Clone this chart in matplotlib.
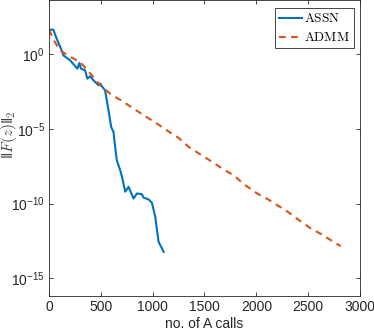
import matplotlib
matplotlib.use("Agg")
import matplotlib.pyplot as plt
import numpy as np
from matplotlib.ticker import LogFormatterMathtext, NullLocator

plt.rcParams['font.family'] = ['Liberation Sans', 'DejaVu Sans']
plt.rcParams['mathtext.fontset'] = 'custom'
plt.rcParams['mathtext.rm'] = 'Liberation Sans'
plt.rcParams['mathtext.it'] = 'Liberation Sans:italic'
plt.rcParams['mathtext.default'] = 'regular'

# ASSN: calls vs log10 residual
assn_x = [0, 42, 74, 122, 139, 203, 274, 293, 309, 348, 370, 396, 429, 477, 493, 516, 541,
          574, 600, 622, 638, 654, 687, 703, 735, 767, 816, 848, 896, 912, 961, 993, 1025,
          1057, 1106]
assn_log = [1.65, 1.65, 1.05, 0.27, -0.07, -0.4, -0.96, -0.58, -0.96, -1.07, -1.63, -1.47,
            -1.74, -2.07, -1.96, -2.19, -2.41, -3.75, -4.87, -5.2, -6.2, -7.1, -7.77, -8.18,
            -9.2, -8.88, -9.66, -9.32, -9.37, -9.6, -9.72, -9.95, -10.89, -12.56, -13.23]

# ADMM
admm_x = [0, 50, 106, 200, 300, 400, 493, 600, 700, 816, 930, 1041, 1150, 1250, 1348,
          1470, 1573, 1670, 1780, 1890, 2008, 2110, 2200, 2282, 2400, 2524, 2640, 2740, 2814]
admm_log = [1.65, 0.9, 0.27, -0.15, -0.51, -1.3, -2.07, -2.7, -3.1, -3.64, -4.15, -4.64,
            -5.15, -5.6, -6.2, -6.75, -7.2, -7.65, -8.1, -8.75, -9.32, -9.7, -10.1, -10.44,
            -11.05, -11.66, -12.1, -12.55, -12.85]

W, H = 374, 332
fig = plt.figure(figsize=(W/100, H/100), dpi=100)
ax = fig.add_axes([49/W, 1-296/H, 311/W, 296/H])

ax.semilogy(assn_x, 10.0**np.array(assn_log), '-', color='#0072BD', lw=1.5, label='$\\mathrm{ASSN}$')
ax.semilogy(admm_x, 10.0**np.array(admm_log), '--', color='#D95319', lw=1.5,
            dashes=(3.2, 2.6), label='$\\mathrm{ADMM}$')

ax.set_xlim(0, 3000)
ax.set_ylim(10**-16.19, 10**3.64)
ax.set_xticks([0, 500, 1000, 1500, 2000, 2500, 3000])
ax.set_yticks([1e-15, 1e-10, 1e-5, 1e0])
ax.yaxis.set_minor_locator(NullLocator())
ax.yaxis.set_major_formatter(LogFormatterMathtext())

ax.tick_params(direction='in', length=3, width=0.6, top=True, right=True,
               labelsize=10, colors='#262626', pad=3)
for s in ax.spines.values():
    s.set_color('#262626')
    s.set_linewidth(0.6)

ax.set_xlabel('no. of A calls', fontsize=10, color='#262626', labelpad=2)
yl = fig.text(9/W, 1-135/H,
              '$\\|\\mathit{F}\\mathrm{(}\\mathit{z}\\mathrm{)}\\|_\\mathrm{2}$',
              fontsize=11, color='#404040', rotation=90, ha='center', va='center')
yl.set_math_fontfamily('cm')

leg = ax.legend(loc='upper right', bbox_to_anchor=(353.5/W, 1-8.3/H),
                bbox_transform=fig.transFigure, borderaxespad=0,
                fontsize=9.5, frameon=True, fancybox=False,
                edgecolor='#262626', framealpha=1, borderpad=0.3, handlelength=1.7,
                handletextpad=0.15, labelspacing=0.45)
leg.get_frame().set_linewidth(0.6)
for t in leg.get_texts():
    t.set_math_fontfamily('cm')

fig.savefig('out.png', dpi=100)
